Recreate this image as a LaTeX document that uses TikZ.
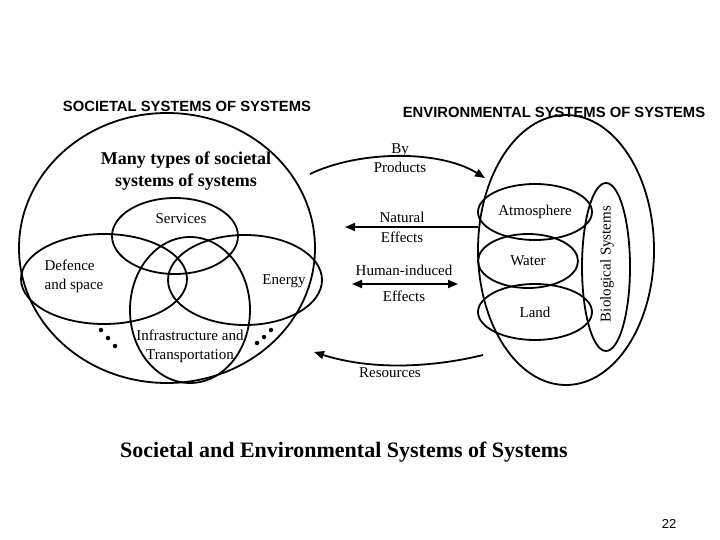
\documentclass[tikz,border=0pt]{standalone}
\usepackage{fontspec}
\setmainfont{Liberation Serif}
\newfontfamily\arial{Liberation Sans}
\usetikzlibrary{shapes.geometric,arrows.meta}
\begin{document}
\begin{tikzpicture}[x=1pt,y=-1pt,
  ell/.style={ellipse,draw,line width=1.8pt,inner sep=0pt},
  lbl/.style={font=\fontsize{15}{19}\selectfont,align=center},
  conn/.style={line width=1.8pt,-{Triangle[length=10pt,width=8pt]}},
  hdr/.style={font=\arial\bfseries\fontsize{14.8}{16}\selectfont},
  dot/.style={circle,fill,inner sep=0pt,minimum size=4.5pt}]
\useasboundingbox (0,0) rectangle (720,540);
\node[hdr] (t1) at (187,106) {SOCIETAL SYSTEMS OF SYSTEMS};
\node[hdr] (t2) at (554,112) {ENVIRONMENTAL SYSTEMS OF SYSTEMS};
\node[ell,minimum width=296pt,minimum height=270pt] (soc) at (167,248) {};
\node[ell,minimum width=176pt,minimum height=270pt] (env) at (566,250) {};
\node[font=\bfseries\fontsize{18}{22}\selectfont,align=center] (many) at (186,171) {Many types of societal\\systems of systems};
\node[ell,minimum width=126pt,minimum height=76pt] (serv) at (175,236) {};
\node[ell,minimum width=166pt,minimum height=90pt] (def) at (104,279) {};
\node[ell,minimum width=154pt,minimum height=90pt] (en) at (245,280) {};
\node[ell,minimum width=120pt,minimum height=146pt] (inf) at (190,310) {};
\node[lbl] (servl) at (181,219) {Services};
\node[lbl,align=left] (defl) at (74,276) {Defence\\and space};
\node[lbl] (enl) at (284,281) {Energy};
\node[lbl] (infl) at (190,346) {Infrastructure and\\Transportation};
\node[dot] (d1) at (101,330) {};
\node[dot] (d2) at (108,338) {};
\node[dot] (d3) at (115,346) {};
\node[dot] (d4) at (257,343) {};
\node[dot] (d5) at (264,337) {};
\node[dot] (d6) at (271,330) {};
\node[ell,minimum width=114pt,minimum height=56pt] (atm) at (535,212) {};
\node[ell,minimum width=100pt,minimum height=54pt] (wat) at (528,261) {};
\node[ell,minimum width=114pt,minimum height=56pt] (land) at (535,312) {};
\node[ell,minimum width=48pt,minimum height=168pt] (bio) at (606,267) {};
\node[lbl] (atml) at (535,212) {Atmosphere};
\node[lbl] (watl) at (528,261) {Water};
\node[lbl] (landl) at (535,312) {Land};
\node[lbl,rotate=90] (biol) at (607,264) {Biological Systems};
\coordinate (bp1) at (310,174); \coordinate (bp2) at (485,178);
\draw[conn] (bp1) .. controls (360,150) and (440,150) .. (bp2);
\node[lbl] (bpl) at (400,158) {By\\Products};
\coordinate (ne1) at (478,227); \coordinate (ne2) at (345,227);
\draw[conn] (ne1) -- (ne2);
\node[lbl] (nel1) at (402,217) {Natural};
\node[lbl] (nel2) at (402,237) {Effects};
\coordinate (hi1) at (352,284); \coordinate (hi2) at (458,284);
\draw[conn,{Triangle[length=10pt,width=8pt]}-{Triangle[length=10pt,width=8pt]}] (hi1) -- (hi2);
\node[lbl] (hil1) at (404,270) {Human-induced};
\node[lbl] (hil2) at (404,296) {Effects};
\coordinate (rs1) at (483,355); \coordinate (rs2) at (314,352);
\draw[conn] (rs1) .. controls (430,368) and (370,370) .. (rs2);
\node[lbl] (rsl) at (390,373) {Resources};
\node[font=\bfseries\fontsize{22}{24}\selectfont] (cap) at (344,452) {Societal and Environmental Systems of Systems};
\node[font=\arial\fontsize{13}{14}\selectfont] (pg) at (669,524) {22};
\end{tikzpicture}
\end{document}
